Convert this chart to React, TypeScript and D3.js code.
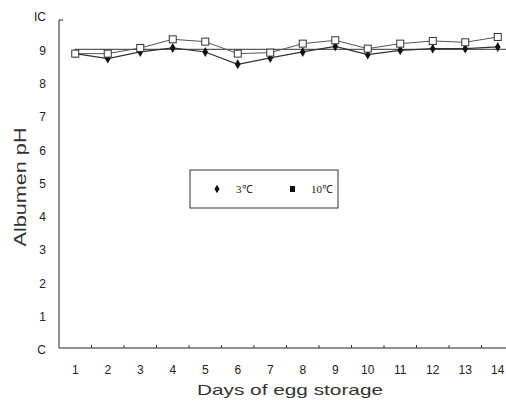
import * as d3 from 'd3';
import React, { useRef, useEffect } from 'react';

const days = ['1', '2', '3', '4', '5', '6', '7', '8', '9', '10', '11', '12', '13', '14'];
const ph3C = [8.9, 8.75, 8.95, 9.07, 8.95, 8.58, 8.77, 8.95, 9.12, 8.87, 9.0, 9.05, 9.05, 9.1];
const ph10C = [8.9, 8.9, 9.07, 9.33, 9.26, 8.9, 8.93, 9.2, 9.3, 9.05, 9.2, 9.28, 9.24, 9.4];
const yTicks = [0, 1, 2, 3, 4, 5, 6, 7, 8, 9, 10];
const yTickLabels = ['C', '1', '2', '3', '4', '5', '6', '7', '8', '9', 'IC'];
const refLevel = 9.03;

const App = () => {
  const width = 506;
  const height = 403;
  const marginLeft = 59;
  const gx = useRef<SVGGElement>(null);
  const gy = useRef<SVGGElement>(null);

  // bands of ~32.5px, last one runs off the right edge like the scan
  const x = d3.scaleBand(days, [marginLeft, marginLeft + 14 * 32.5]);
  const y = d3.scaleLinear([0, 10], [350, 17]);
  const axisY = 348;

  const line = d3.line<number>((d, i) => x(days[i])! + x.bandwidth() / 2, y);

  useEffect(() => {
    const font = '"Liberation Sans Narrow", "Liberation Sans", sans-serif';
    const ax = d3.select(gx.current!);
    ax.call(d3.axisBottom(x).tickSize(0).tickPadding(17));
    ax.select('.domain').attr('d', `M${marginLeft},0H${width}`).attr('stroke', '#222');
    ax.selectAll('text').attr('font-family', font).attr('font-size', 12).attr('fill', '#222');
    // small upward ticks between bands
    ax.selectAll('line.sep').data(days.slice(1)).join('line').attr('class', 'sep')
      .attr('x1', (d) => x(d)!).attr('x2', (d) => x(d)!).attr('y1', 0).attr('y2', -3).attr('stroke', '#333');

    const ay = d3.select(gy.current!);
    ay.call(d3.axisLeft(y).tickValues(yTicks).tickSize(0).tickPadding(13).tickFormat((d, i) => yTickLabels[i]));
    ay.select('.domain').attr('d', `M0,${y(10) + 3}V${axisY}`).attr('stroke', '#222');
    ay.selectAll('text').attr('font-family', font).attr('font-size', 12).attr('fill', '#222');
    ay.append('line').attr('x1', 0).attr('x2', 4).attr('y1', y(10) + 3).attr('y2', y(10) + 3).attr('stroke', '#222');
  }, []);

  const cx = (i: number) => x(days[i])! + x.bandwidth() / 2;

  return (
    <svg width={width} height={height} style={{ position: 'absolute', left: 0, top: 0, background: '#fff' }}>
      <g ref={gx} transform={`translate(0,${axisY})`} />
      <g ref={gy} transform={`translate(${marginLeft},0)`} />
      <line x1={cx(0)} x2={width} y1={y(refLevel)} y2={y(refLevel)} stroke="#333" strokeWidth={1} />
      <path d={line(ph3C)!} fill="none" stroke="#333" strokeWidth={1.2} />
      <path d={line(ph10C)!} fill="none" stroke="#555" strokeWidth={1} />
      {ph3C.map((d, i) => (
        <path key={'a' + i} d={d3.symbol(d3.symbolDiamond, 28)()!} transform={`translate(${cx(i)},${y(d)})`} fill="#111" />
      ))}
      {ph10C.map((d, i) => (
        <rect key={'b' + i} x={cx(i) - 3.5} y={y(d) - 3.5} width={7} height={7} fill="#fff" stroke="#333" strokeWidth={1} />
      ))}
      <rect x={190} y={170} width={148} height={38} fill="#fff" stroke="#333" strokeWidth={1} />
      <path d={d3.symbol(d3.symbolDiamond, 22)()!} transform="translate(217,189)" fill="#111" />
      <text x={236} y={193} fontFamily='"Liberation Serif", serif' fontSize={11} fill="#222">3℃</text>
      <rect x={290} y={186} width={5} height={6} fill="#111" />
      <text x={311} y={193} fontFamily='"Liberation Serif", serif' fontSize={11} fill="#222">10℃</text>
      <text transform="translate(26,187) rotate(-90)" textAnchor="middle" textLength={119} lengthAdjust="spacingAndGlyphs"
        fontFamily='"Liberation Sans", Arial, sans-serif' fontSize={16} fill="#333">Albumen pH</text>
      <text x={290} y={395} textAnchor="middle" textLength={186} lengthAdjust="spacingAndGlyphs"
        fontFamily='"Liberation Sans", Arial, sans-serif' fontSize={15} fill="#333">
        Days of egg storage
      </text>
    </svg>
  );
};

export default App;
